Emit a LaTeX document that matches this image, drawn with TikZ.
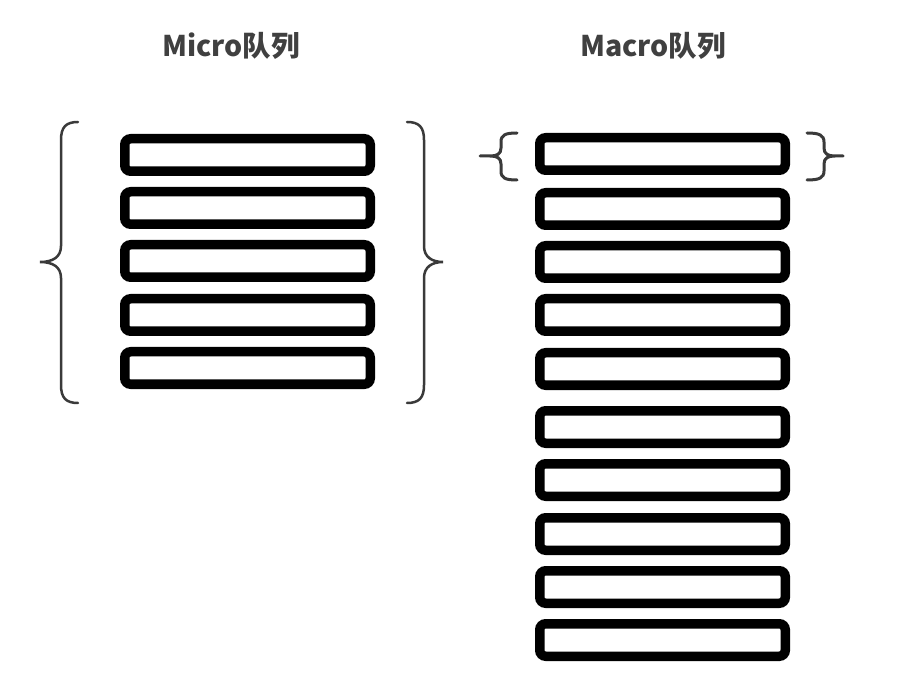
\documentclass[tikz,border=0pt]{standalone}
\usepackage{fontspec}
\newfontfamily\cjk{Noto Sans CJK SC}
\definecolor{titlegray}{HTML}{404040}
\definecolor{bracegray}{HTML}{3A3A3A}
\tikzset{
  qbox/.style={draw, line width=9.5pt, rounded corners=6pt, minimum width=245.5pt, minimum height=32.5pt, inner sep=0pt},
  qtitle/.style={text=titlegray, font=\cjk\bfseries\fontsize{28.5}{32}\selectfont},
  qbrace/.style={draw=bracegray, line width=2.5pt, line cap=round}
}
\begin{document}
\begin{tikzpicture}[x=1pt, y=-1pt]
\useasboundingbox[fill=white] (0,0) rectangle (902,700);
\node[qtitle] (tmicro) at (231,46){Micro队列};
\node[qtitle] (tmacro) at (653,46){Macro队列};
\node[qbox] (mi1) at (247.5,155){};
\node[qbox] (mi2) at (247.5,208){};
\node[qbox] (mi3) at (247.5,261){};
\node[qbox] (mi4) at (247.5,315){};
\node[qbox] (mi5) at (247.5,368){};
\node[qbox] (ma1) at (662.5,154){};
\node[qbox] (ma2) at (662.5,209){};
\node[qbox] (ma3) at (662.5,262){};
\node[qbox] (ma4) at (662.5,315){};
\node[qbox] (ma5) at (662.5,369){};
\node[qbox] (ma6) at (662.5,427){};
\node[qbox] (ma7) at (662.5,480){};
\node[qbox] (ma8) at (662.5,534){};
\node[qbox] (ma9) at (662.5,587){};
\node[qbox] (ma10) at (662.5,640){};
% braces round the micro queue
\draw[qbrace] (78,122) .. controls (66,122) and (61,127) .. (61,140) -- (61,246) .. controls (61,257) and (53,262) .. (40,262) .. controls (53,262) and (61,267) .. (61,278) -- (61,385) .. controls (61,398) and (66,403) .. (78,403);
\draw[qbrace] (407,122) .. controls (419,122) and (424,127) .. (424,140) -- (424,246) .. controls (424,257) and (432,262) .. (443,262) .. controls (432,262) and (424,267) .. (424,278) -- (424,385) .. controls (424,398) and (419,403) .. (407,403);
% braces round the first macro task
\draw[qbrace, line width=3pt] (517,133) .. controls (505,133) and (501,135) .. (501,142) -- (501,148) .. controls (501,154) and (497,156) .. (490,156) -- (480,156) (490,156) .. controls (497,156) and (501,158) .. (501,164) -- (501,171) .. controls (501,178) and (505,180) .. (517,180);
\draw[qbrace, line width=3pt] (807,133) .. controls (819,133) and (824,135) .. (824,142) -- (824,148) .. controls (824,154) and (828,156) .. (835,156) -- (843,156) (835,156) .. controls (828,156) and (824,158) .. (824,164) -- (824,171) .. controls (824,178) and (819,180) .. (807,180);
\end{tikzpicture}
\end{document}
